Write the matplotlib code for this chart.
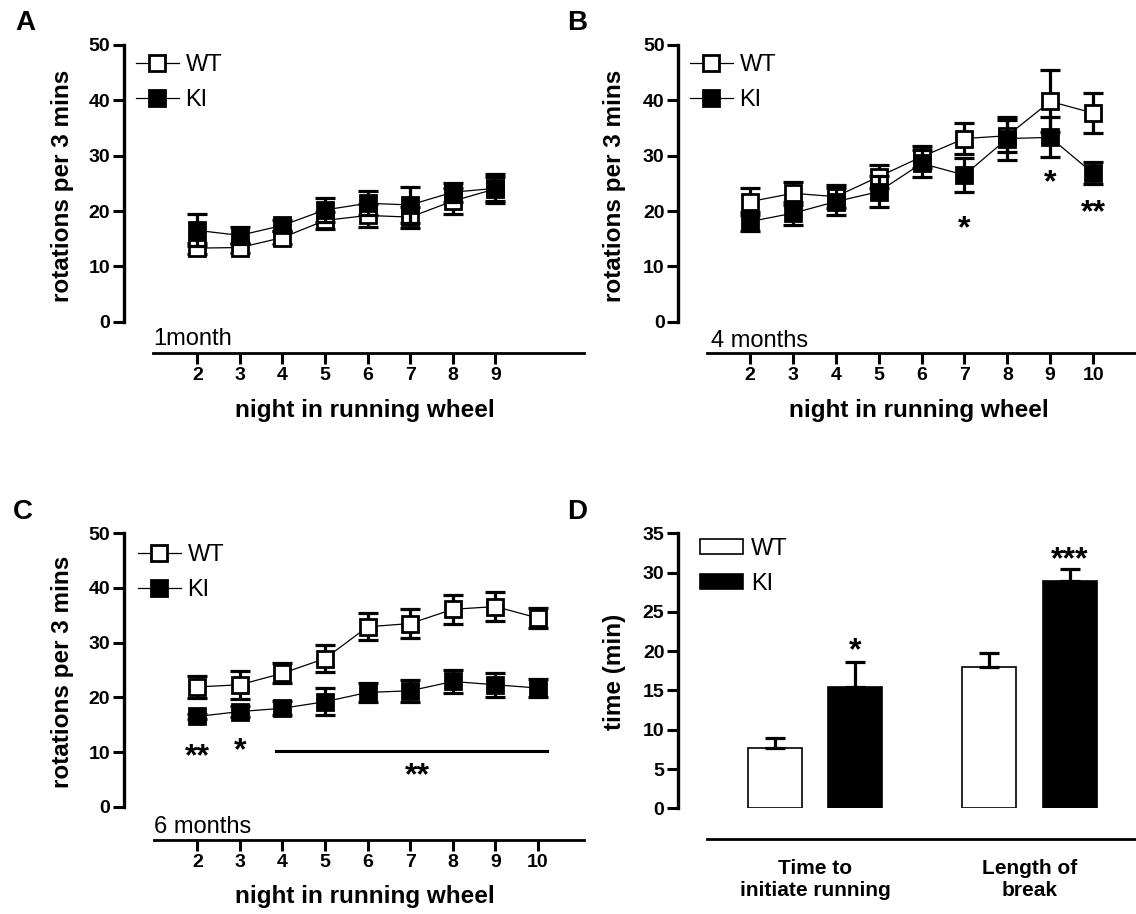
import numpy as np
import matplotlib.pyplot as plt
from matplotlib.patches import Patch

plt.rcParams['font.family'] = ['Liberation Sans', 'DejaVu Sans']

W, H = 1136, 914

# A - 1 month
nights_a = [2, 3, 4, 5, 6, 7, 8, 9]
wt_a = [13.3, 13.4, 15.2, 18.3, 19.2, 18.9, 21.8, 24.0]
wt_a_err = [1.0, 0.9, 1.1, 1.5, 2.1, 1.9, 2.4, 2.2]
ki_a = [16.5, 15.6, 17.4, 20.2, 21.4, 21.1, 23.4, 24.1]
ki_a_err = [2.9, 1.5, 1.0, 2.1, 2.2, 3.3, 1.7, 2.6]

# B - 4 months
nights_b = [2, 3, 4, 5, 6, 7, 8, 9, 10]
wt_b = [21.7, 23.2, 22.6, 26.2, 29.8, 33.1, 33.6, 39.8, 37.7]
wt_b_err = [2.5, 2.1, 2.1, 2.1, 2.0, 2.8, 2.9, 5.6, 3.6]
ki_b = [18.1, 19.6, 21.7, 23.5, 28.6, 26.5, 33.1, 33.3, 26.8]
ki_b_err = [1.8, 2.1, 2.4, 2.8, 2.5, 3.0, 3.9, 3.6, 2.0]
stars_b = [(7, 18.6, '*'), (9, 26.8, '*'), (10, 21.4, '**')]

# C - 6 months
nights_c = [2, 3, 4, 5, 6, 7, 8, 9, 10]
wt_c = [21.9, 22.3, 24.4, 27.1, 32.9, 33.5, 36.1, 36.6, 34.5]
wt_c_err = [2.0, 2.6, 1.8, 2.5, 2.5, 2.6, 2.6, 2.7, 1.9]
ki_c = [16.5, 17.4, 18.0, 19.2, 20.9, 21.2, 22.9, 22.3, 21.7]
ki_c_err = [0.5, 1.0, 1.3, 2.5, 1.8, 2.0, 2.1, 2.2, 1.7]
stars_c = [(2, 10.8, '**'), (3, 12.0, '*'), (7.16, 7.4, '**')]
c_bar_nights = [3.85, 10.2]
c_bar_level = 10.1

# D - bars
measures = ['Time to\ninitiate running', 'Length of\nbreak']
wt_d = [7.7, 18.0]
wt_d_err = [1.25, 1.8]
ki_d = [15.5, 28.9]
ki_d_err = [3.1, 1.5]
stars_d = ['*', '***']
stars_d_y = [21.3, 32.9]

fig = plt.figure(figsize=(W / 100, H / 100), dpi=100)


def px_box(l, t, r, b):
    return [l / W, 1 - b / H, (r - l) / W, (b - t) / H]


def style_axes(ax, drop, xbounds):
    for s in ('top', 'right'):
        ax.spines[s].set_visible(False)
    ax.spines['left'].set_linewidth(2.4)
    ax.spines['bottom'].set_linewidth(2.0)
    ax.spines['bottom'].set_position(('outward', drop))
    ax.spines['bottom'].set_bounds(*xbounds)
    ax.tick_params(axis='both', width=2.2, length=8, labelsize=14, pad=2)
    plt.setp(ax.get_xticklabels() + ax.get_yticklabels(), fontweight='bold')


def star(ax, x, y, s):
    # y is the centre of the glyph
    ax.annotate(s, (x, y), xytext=(0, -13), textcoords='offset points',
                ha='center', va='baseline', fontsize=23, fontweight='bold',
                annotation_clip=False)


def line_panel(rect, xlim, xbounds, drop, nights, wt, wt_err, ki, ki_err, leg_xy):
    ax = fig.add_axes(rect)
    handles = []
    for y, e, face, name in ((wt, wt_err, 'white', 'WT'), (ki, ki_err, 'black', 'KI')):
        ax.errorbar(nights, y, yerr=e, fmt='none', ecolor='black', elinewidth=2.3,
                    capsize=7, capthick=2.3, clip_on=False)
        ln, = ax.plot(nights, y, '-', color='black', lw=0.9, marker='s', ms=11,
                      mfc=face, mec='black', mew=2, clip_on=False, label=name)
        handles.append(ln)
    ax.set_xlim(*xlim)
    ax.set_ylim(0, 50)
    ax.set_yticks(range(0, 51, 10))
    ax.set_xticks(nights)
    style_axes(ax, drop, xbounds)
    ax.legend(handles=handles, loc='upper left',
              bbox_to_anchor=(leg_xy[0] / W, 1 - leg_xy[1] / H),
              bbox_transform=fig.transFigure, frameon=False, fontsize=17,
              handlelength=1.8, handletextpad=0.3, labelspacing=0.55,
              borderpad=0, borderaxespad=0, numpoints=1, markerscale=1.1)
    return ax


ax_a = line_panel(px_box(124, 45, 584, 321.7), (0.28, 11.08), (0.97, 11.08), 22.3,
                  nights_a, wt_a, wt_a_err, ki_a, ki_a_err, (136, 54))
ax_b = line_panel(px_box(678.4, 45, 1136, 321.7), (0.33, 11.0), (1.0, 11.0), 22.3,
                  nights_b, wt_b, wt_b_err, ki_b, ki_b_err, (690, 54))
for x, y, s in stars_b:
    star(ax_b, x, y, s)

ax_c = line_panel(px_box(124, 533.3, 584, 806.7), (0.28, 11.08), (0.99, 11.08), 24,
                  nights_c, wt_c, wt_c_err, ki_c, ki_c_err, (138, 544))
for x, y, s in stars_c:
    star(ax_c, x, y, s)
ax_c.plot(c_bar_nights, [c_bar_level, c_bar_level], color='black', lw=2.2)

# D
ax_d = fig.add_axes(px_box(678.3, 533.3, 1136, 808.3))
groups = np.arange(len(measures))
off, bw = 0.1886, 0.252
ekw = dict(elinewidth=2.3, capsize=7, capthick=2.3, ecolor='black')
ax_d.bar(groups - off, wt_d, bw, color='white', edgecolor='black', linewidth=1.2,
         yerr=[np.zeros(len(wt_d)), wt_d_err], error_kw=ekw, label='WT')
ax_d.bar(groups + off, ki_d, bw, color='black', edgecolor='black', linewidth=1.2,
         yerr=[np.zeros(len(ki_d)), ki_d_err], error_kw=ekw, label='KI')
for g, y, s in zip(groups, stars_d_y, stars_d):
    star(ax_d, g + off, y, s)
ax_d.set_xlim(-0.638, 1.498)
ax_d.set_ylim(0, 35)
ax_d.set_yticks(range(0, 36, 5))
ax_d.set_xticks(groups, measures)
style_axes(ax_d, 22.3, (-0.503, 1.498))
ax_d.tick_params(axis='x', length=0, pad=14, labelsize=15)
plt.setp(ax_d.get_xticklabels(), linespacing=1.2, fontweight='bold')
ax_d.legend(handles=[Patch(facecolor='white', edgecolor='black', lw=1.2, label='WT'),
                     Patch(facecolor='black', edgecolor='black', lw=1.2, label='KI')],
            loc='upper left', bbox_to_anchor=(700 / W, 1 - 538 / H),
            bbox_transform=fig.transFigure, frameon=False, fontsize=17,
            handlelength=1.8, handleheight=0.6, handletextpad=0.35,
            labelspacing=0.55, borderpad=0, borderaxespad=0)

# texts
lab = dict(fontsize=17.5, fontweight='bold', ha='center', va='center')
for x, y in ((62.5, 185.8), (614.4, 185.8), (62.5, 672)):
    fig.text(x / W, 1 - y / H, 'rotations per 3 mins', rotation=90, **lab)
fig.text(614.4 / W, 1 - 672.3 / H, 'time (min)', rotation=90, **lab)
for x, y in ((365, 411), (919, 411), (365, 897)):
    fig.text(x / W, 1 - y / H, 'night in running wheel', **lab)

for x, y, s in ((153.3, 345, '1month'), (710.7, 346.7, '4 months'), (154.3, 833.3, '6 months')):
    fig.text(x / W, 1 - y / H, s, fontsize=17, ha='left', va='baseline')

for x, y, s in ((25, 23, 'A'), (577, 23, 'B'), (23, 512, 'C'), (577, 512, 'D')):
    fig.text(x / W, 1 - y / H, s, fontsize=20, fontweight='bold', ha='center', va='center')

fig.savefig('out.png', dpi=100)
